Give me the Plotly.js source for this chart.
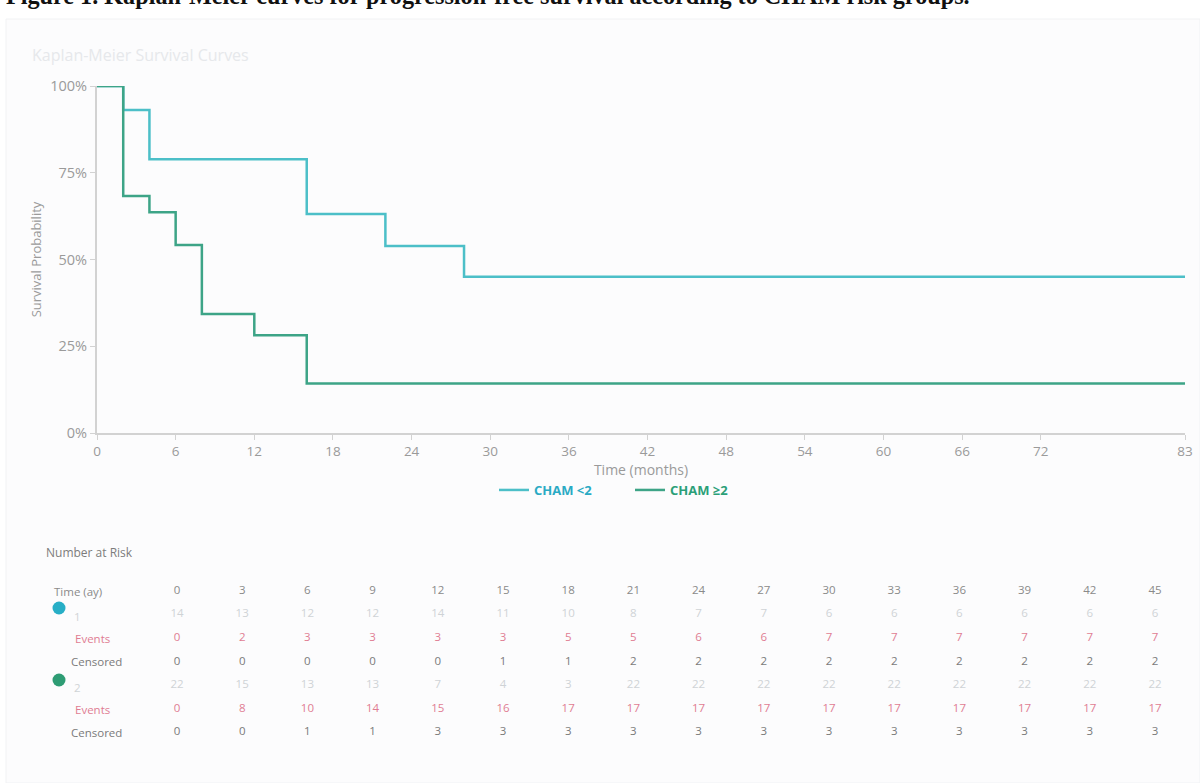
<!DOCTYPE html>
<html>
<head>
<meta charset="utf-8">
<script src="https://cdn.plot.ly/plotly-3.0.1.min.js"></script>
<style>
  html, body { margin: 0; padding: 0; background: #ffffff; }
  #chart { width: 1200px; height: 783px; }
</style>
</head>
<body>
<div id="chart"></div>
<script>
// ---- Data ----
const groupNames = ["CHAM &lt;2", "CHAM ≥2"];
const times1 = [0, 2, 4, 16, 22, 28, 83];
const surv1  = [1.0, 0.931, 0.789, 0.631, 0.539, 0.45, 0.45];
const times2 = [0, 2, 4, 6, 8, 12, 16, 83];
const surv2  = [1.0, 0.683, 0.636, 0.542, 0.343, 0.282, 0.143, 0.143];
const xTickVals = [0, 6, 12, 18, 24, 30, 36, 42, 48, 54, 60, 66, 72, 83];
const yTickVals = [0, 0.25, 0.5, 0.75, 1];

// Number at risk table
const riskTimes   = [0, 3, 6, 9, 12, 15, 18, 21, 24, 27, 30, 33, 36, 39, 42, 45];
const risk1       = [14, 13, 12, 12, 14, 11, 10, 8, 7, 7, 6, 6, 6, 6, 6, 6];
const events1     = [0, 2, 3, 3, 3, 3, 5, 5, 6, 6, 7, 7, 7, 7, 7, 7];
const censored1   = [0, 0, 0, 0, 0, 1, 1, 2, 2, 2, 2, 2, 2, 2, 2, 2];
const risk2       = [22, 15, 13, 13, 7, 4, 3, 22, 22, 22, 22, 22, 22, 22, 22, 22];
const events2     = [0, 8, 10, 14, 15, 16, 17, 17, 17, 17, 17, 17, 17, 17, 17, 17];
const censored2   = [0, 0, 1, 1, 3, 3, 3, 3, 3, 3, 3, 3, 3, 3, 3, 3];
const rowLabels   = ["Time (ay)", "1", "Events", "Censored", "2", "Events", "Censored"];

// ---- Styling ----
const W = 1200, H = 783;
const M = {l: 97, r: 15, t: 20, b: 20};
const plotW = W - M.l - M.r, plotH = H - M.t - M.b;
const px = p => (p - M.l) / plotW;
const py = p => (H - M.b - p) / plotH;

const cCyan = '#4cbfc8', cGreen = '#3da487';
const cCyanTxt = '#2aaac4', cGreenTxt = '#2b9f78';
const axisGray = '#d2d2d2', tickGray = '#9a9a9a';
const FONT = 'Open Sans, Arial, sans-serif';

// table axis mapping (column index -> x2, row index -> y2)
const colX0 = 177, colStep = 65.2;
const x2min = -(colX0 - M.l) / colStep;
const x2max = x2min + plotW / colStep;
const rowY0 = 591, rowStep = 23.6;
const y2TopPix = 540;
const y2range = [(H - M.b - rowY0) / rowStep, (y2TopPix - rowY0) / rowStep];
const colIdx = riskTimes.map((t, i) => i);

function rowTrace(vals, row, color) {
  return {
    x: colIdx, y: colIdx.map(() => row), text: vals.map(String),
    mode: 'text', type: 'scatter', xaxis: 'x2', yaxis: 'y2',
    textfont: {family: FONT, size: 11.5, color: color},
    hoverinfo: 'skip', showlegend: false, cliponaxis: false
  };
}

const traces = [
  {x: times1, y: surv1, type: 'scatter', mode: 'lines', line: {shape: 'hv', color: cCyan, width: 2.5},
   name: '<b><span style="color:' + cCyanTxt + '">' + groupNames[0] + '</span></b>', cliponaxis: false, hoverinfo: 'skip'},
  {x: times2, y: surv2, type: 'scatter', mode: 'lines', line: {shape: 'hv', color: cGreen, width: 2.5},
   name: '<b><span style="color:' + cGreenTxt + '">' + groupNames[1] + '</span></b>', cliponaxis: false, hoverinfo: 'skip'},
  rowTrace(riskTimes, 0, '#8a8a8a'),
  rowTrace(risk1, 1, '#cfd3d6'),
  rowTrace(events1, 2, '#e07d93'),
  rowTrace(censored1, 3, '#7a7a7a'),
  rowTrace(risk2, 4, '#cfd3d6'),
  rowTrace(events2, 5, '#e07d93'),
  rowTrace(censored2, 6, '#7a7a7a')
];

const annotations = [
  {text: '<b>Figure 1. Kaplan-Meier curves for progression-free survival according to CHAM risk groups.</b>',
   xref: 'paper', yref: 'paper', x: px(4), y: py(-4), xanchor: 'left', yanchor: 'middle', showarrow: false,
   font: {family: 'Liberation Serif, Times New Roman, serif', size: 24.2, color: '#111'}},
  {text: 'Kaplan-Meier Survival Curves', xref: 'paper', yref: 'paper', x: px(30), y: py(55),
   xanchor: 'left', yanchor: 'middle', showarrow: false,
   font: {family: FONT, size: 16, color: '#e6e8eb'}},
  {text: 'Number at Risk', xref: 'paper', yref: 'paper', x: px(44), y: py(552),
   xanchor: 'left', yanchor: 'middle', showarrow: false,
   font: {family: FONT, size: 12, color: '#7c7c7c'}}
];
const labelColors = ['#8a8a8a', '#d0d4d7', '#e07d93', '#7a7a7a', '#d0d4d7', '#e07d93', '#7a7a7a'];
const labelLeft = [52, 72, 73, 69, 72, 73, 69];
rowLabels.forEach((lab, k) => {
  annotations.push({text: lab, xref: 'paper', yref: 'paper', x: px(labelLeft[k]),
    y: py(rowY0 + k * rowStep + (k === 1 || k === 4 ? 2 : 0)), xanchor: 'left', yanchor: 'middle', showarrow: false,
    font: {family: FONT, size: 11.5, color: labelColors[k]}});
});

// group dots in the risk table
const dotColors = ['#27aec6', '#2e9c74'];
const dotRowsPix = [608, 680];
const shapes = [
  {type: 'rect', xref: 'paper', yref: 'paper', x0: px(6), x1: px(1200), y0: py(783), y1: py(19),
   fillcolor: '#fcfcfd', line: {color: '#f1f2f4', width: 1}, layer: 'below'}
];
dotRowsPix.forEach((yp, g) => {
  shapes.push({type: 'circle', xref: 'paper', yref: 'paper',
    x0: px(52.5), x1: px(65.5), y0: py(yp + 6.5), y1: py(yp - 6.5),
    fillcolor: dotColors[g], line: {width: 0}, layer: 'above'});
});

const layout = {
  width: W, height: H,
  margin: M,
  paper_bgcolor: '#ffffff', plot_bgcolor: 'rgba(0,0,0,0)',
  font: {family: FONT, color: tickGray},
  showlegend: true,
  legend: {orientation: 'h', x: px(630), y: py(490), xanchor: 'center', yanchor: 'middle',
           font: {family: FONT, size: 13}, itemwidth: 30, bgcolor: 'rgba(0,0,0,0)',
           entrywidth: 91, tracegroupgap: 0},
  xaxis: {domain: [0, 1], range: [0, 83], tickvals: xTickVals, ticktext: xTickVals.map(String),
          showgrid: false, zeroline: false, showline: true, linecolor: axisGray, linewidth: 2,
          ticks: 'outside', ticklen: 5, tickcolor: axisGray, tickwidth: 1,
          tickfont: {family: FONT, size: 13.5, color: tickGray},
          title: {text: 'Time (months)', standoff: 2, font: {family: FONT, size: 14, color: tickGray}},
          anchor: 'y', fixedrange: true},
  yaxis: {domain: [py(433), py(86)], range: [0, 1], tickvals: yTickVals, tickformat: '.0%',
          showgrid: false, zeroline: false, showline: true, linecolor: axisGray, linewidth: 2,
          ticks: 'outside', ticklen: 5, tickcolor: axisGray, tickwidth: 1,
          tickfont: {family: FONT, size: 14.5, color: tickGray},
          title: {text: 'Survival Probability', standoff: 6, font: {family: FONT, size: 13, color: tickGray}},
          anchor: 'x', fixedrange: true},
  xaxis2: {domain: [0, 1], range: [x2min, x2max], visible: false, anchor: 'y2', fixedrange: true},
  yaxis2: {domain: [0, py(y2TopPix)], range: y2range, visible: false, anchor: 'x2', fixedrange: true},
  annotations: annotations,
  shapes: shapes
};

Plotly.newPlot('chart', traces, layout, {displayModeBar: false, staticPlot: true});
</script>
</body>
</html>
